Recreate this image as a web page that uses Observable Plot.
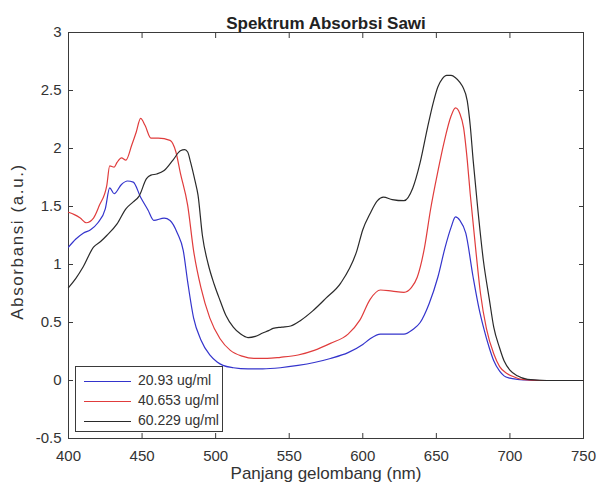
<!DOCTYPE html>
<html>
<head>
<meta charset="utf-8">
<script src="https://cdn.jsdelivr.net/npm/d3@7"></script>
<script src="https://cdn.jsdelivr.net/npm/@observablehq/plot@0.6"></script>
<style>
  html, body { margin: 0; padding: 0; background: #fff; }
  #wrap { position: relative; width: 598px; height: 494px; font-family: "Liberation Sans", Arial, sans-serif; }
  #legend { position: absolute; left: 75px; top: 366px; width: 146px; height: 64px; border: 1px solid #3a3a3a; background: #fff; }
  .row { position: absolute; left: 0; height: 20px; width: 146px; }
  .row .ln { position: absolute; left: 8px; top: 10px; width: 47px; height: 0; border-top: 1.3px solid; }
  .row .tx { position: absolute; left: 62px; top: 1px; font-size: 14px; color: #333; white-space: nowrap; }
  .ylab { letter-spacing: 1.6px; }
</style>
</head>
<body>
<div id="wrap"></div>
<script>
const title = "Spektrum Absorbsi Sawi";
const xLabel = "Panjang gelombang (nm)";
const yLabel = "Absorbansi (a.u.)";
const seriesNames = ["20.93 ug/ml", "40.653 ug/ml", "60.229 ug/ml"];
const seriesColors = ["#3434cc", "#e03c3c", "#2a2a2a"];
const xTicks = [400, 450, 500, 550, 600, 650, 700, 750];
const yTicks = [-0.5, 0, 0.5, 1, 1.5, 2, 2.5, 3];

// 20.93 ug/ml
const wl1 = [400,405,410,415,420,425,428,431,436,440,444,449,454,458,465,469,474,478,481,485,490,496,501,505,512,522,532,544,556,567,578,590,600,605,612,620,628,634,639,645,651,656,660,663,666,670,675,679,682,686,689,693,696,700,705,710,720,735,750];
const ab1 = [1.15,1.22,1.27,1.30,1.36,1.48,1.66,1.61,1.69,1.72,1.71,1.58,1.47,1.38,1.40,1.38,1.27,1.12,0.85,0.54,0.35,0.22,0.16,0.13,0.11,0.10,0.10,0.11,0.13,0.155,0.19,0.24,0.31,0.36,0.40,0.40,0.40,0.44,0.50,0.66,0.89,1.15,1.32,1.41,1.38,1.27,0.89,0.62,0.46,0.28,0.17,0.08,0.04,0.02,0.01,0.005,0,0,0];

// 40.653 ug/ml
const wl2 = [400,404,408,412,417,421,426,428,431,433,436,439,443,446,449,452,456,461,469,473,476,481,485,490,496,503,510,518,526,535,544,556,567,578,590,598,605,612,620,628,633,637,642,646,651,655,660,663,666,668.5,671,673,677,680,684,689,693,698,703,708,720,735,750];
const ab2 = [1.45,1.43,1.40,1.36,1.40,1.51,1.68,1.85,1.84,1.88,1.92,1.90,2.03,2.14,2.26,2.20,2.09,2.09,2.07,1.97,1.79,1.51,1.12,0.80,0.54,0.36,0.26,0.21,0.19,0.19,0.20,0.22,0.26,0.32,0.40,0.52,0.70,0.78,0.77,0.76,0.80,0.89,1.15,1.47,1.80,2.04,2.28,2.35,2.30,2.18,1.90,1.61,1.10,0.75,0.45,0.23,0.12,0.06,0.03,0.01,0,0,0];

// 60.229 ug/ml
const wl3 = [400,405,410,417,422,426,433,439,444,448,453,456,460,465,471,476,479,481,483,486,488,491,495,499,503,507,512,517,522,527,532,536,539,545,551,558,566,575,585,596,600,605,610,614,620,628,634,639,644,648,651,654,657,660,663,666,668,671,673,675,678,682,686,689,693,696,700,705,712,725,750];
const ab3 = [0.80,0.88,0.98,1.15,1.20,1.25,1.35,1.48,1.54,1.59,1.74,1.77,1.78,1.81,1.90,1.98,1.99,1.97,1.88,1.72,1.60,1.25,1.00,0.83,0.69,0.56,0.46,0.40,0.37,0.38,0.41,0.43,0.45,0.46,0.47,0.52,0.60,0.71,0.84,1.12,1.30,1.44,1.55,1.58,1.56,1.55,1.66,1.88,2.18,2.40,2.53,2.60,2.63,2.63,2.61,2.57,2.53,2.41,2.20,1.90,1.50,1.03,0.70,0.46,0.28,0.17,0.09,0.04,0.01,0,0];

const wls = [wl1, wl2, wl3];
const abs = [ab1, ab2, ab3];
const rows = [];
seriesNames.forEach((name, i) => {
  wls[i].forEach((w, j) => rows.push({series: name, wl: w, a: abs[i][j]}));
});

const fmt = d => String(d);

const chart = Plot.plot({
  width: 598,
  height: 494,
  marginLeft: 68,
  marginRight: 15,
  marginTop: 32,
  marginBottom: 56,
  style: {fontFamily: "'Liberation Sans', Arial, sans-serif", background: "#fff", color: "#333"},
  x: {domain: [400, 750], ticks: xTicks},
  y: {domain: [-0.5, 3], ticks: yTicks},
  color: {domain: seriesNames, range: seriesColors},
  marks: [
    Plot.frame({stroke: "#3a3a3a", strokeWidth: 1}),
    Plot.axisX({anchor: "bottom", ticks: xTicks, tickSize: -5, tickPadding: 17, tickFormat: fmt, label: null, fontSize: 15, stroke: "#3a3a3a"}),
    Plot.axisX({anchor: "top", ticks: xTicks, tickSize: -5, tickFormat: () => "", label: null, stroke: "#3a3a3a"}),
    Plot.axisY({anchor: "left", ticks: yTicks, tickSize: -5, tickPadding: 12, tickFormat: fmt, label: null, fontSize: 15, stroke: "#3a3a3a"}),
    Plot.axisY({anchor: "right", ticks: yTicks, tickSize: -5, tickFormat: () => "", label: null, stroke: "#3a3a3a"}),
    Plot.line(rows, {x: "wl", y: "a", z: "series", stroke: "series", strokeWidth: 1.2, curve: "monotone-x"}),
    Plot.text([title], {frameAnchor: "top", dy: -16, fontSize: 17, fontWeight: "bold", fill: "#222"}),
    Plot.text([xLabel], {frameAnchor: "bottom", dy: 40, fontSize: 17, fill: "#333"}),
    Plot.text([yLabel], {frameAnchor: "left", textAnchor: "middle", dx: -51, dy: 6, rotate: -90, fontSize: 17, fill: "#333", className: "ylab"})
  ]
});

const wrap = document.getElementById("wrap");
wrap.appendChild(chart);

const legend = document.createElement("div");
legend.id = "legend";
seriesNames.forEach((name, i) => {
  const row = document.createElement("div");
  row.className = "row";
  row.style.top = (4 + i * 20) + "px";
  const ln = document.createElement("div");
  ln.className = "ln";
  ln.style.borderTopColor = seriesColors[i];
  const tx = document.createElement("div");
  tx.className = "tx";
  tx.textContent = name;
  row.appendChild(ln);
  row.appendChild(tx);
  legend.appendChild(row);
});
wrap.appendChild(legend);
</script>
</body>
</html>
